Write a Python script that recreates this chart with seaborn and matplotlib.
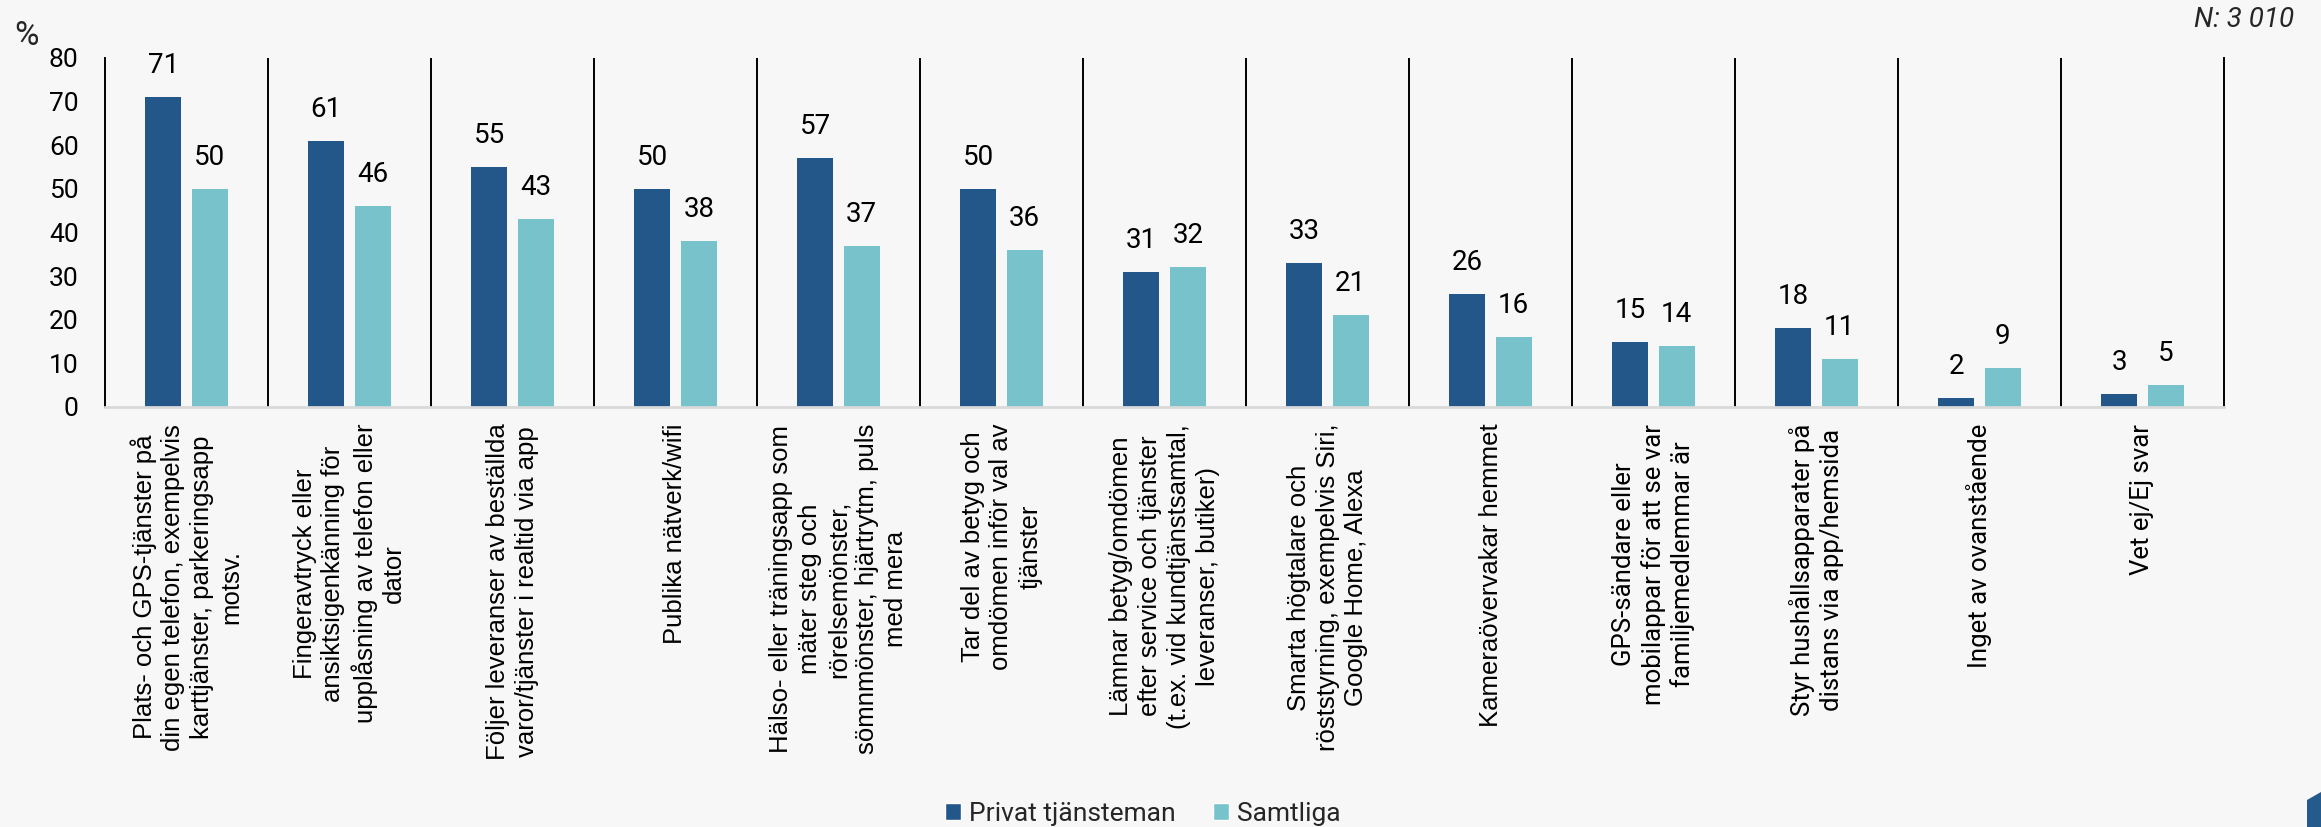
import numpy as np
import pandas as pd
import matplotlib
matplotlib.use("Agg")
import matplotlib.pyplot as plt
from matplotlib.patches import Patch, Polygon
import seaborn as sns

# Survey categories (x axis), one label per group of bars
categories = [
    "Plats- och GPS-tjänster på\ndin egen telefon, exempelvis\nkarttjänster, parkeringsapp\nmotsv.",
    "Fingeravtryck eller\nansiktsigenkänning för\nupplåsning av telefon eller\ndator",
    "Följer leveranser av beställda\nvaror/tjänster i realtid via app",
    "Publika nätverk/wifi",
    "Hälso- eller träningsapp som\nmäter steg och\nrörelsemönster,\nsömnmönster, hjärtrytm, puls\nmed mera",
    "Tar del av betyg och\nomdömen inför val av\ntjänster",
    "Lämnar betyg/omdömen\nefter service och tjänster\n(t.ex. vid kundtjänstsamtal,\nleveranser, butiker)",
    "Smarta högtalare och\nröststyrning, exempelvis Siri,\nGoogle Home, Alexa",
    "Kameraövervakar hemmet",
    "GPS-sändare eller\nmobilappar för att se var\nfamiljemedlemmar är",
    "Styr hushållsapparater på\ndistans via app/hemsida",
    "Inget av ovanstående",
    "Vet ej/Ej svar",
]

# Share (%) per group
privat_tjansteman = [71, 61, 55, 50, 57, 50, 31, 33, 26, 15, 18, 2, 3]
samtliga = [50, 46, 43, 38, 37, 36, 32, 21, 16, 14, 11, 9, 5]

series_names = ["Privat tjänsteman", "Samtliga"]
y_ticks = [0, 10, 20, 30, 40, 50, 60, 70, 80]
sample_note = "N: 3 010"

DARK = "#245789"
LIGHT = "#78C3CB"
BG = "#F7F7F7"

df = pd.DataFrame({
    "kategori": categories * 2,
    "grupp": [series_names[0]] * len(categories) + [series_names[1]] * len(categories),
    "andel": privat_tjansteman + samtliga,
})

sns.set_theme(style="white")
plt.rcParams["font.family"] = ["Roboto", "DejaVu Sans"]

W, H = 2321, 827
fig = plt.figure(figsize=(W / 100, H / 100), dpi=100, facecolor=BG)
ax = fig.add_axes([105 / W, 1 - 407 / H, 2119 / W, 349 / H])
ax.set_facecolor(BG)

sns.barplot(
    data=df, x="kategori", y="andel", hue="grupp",
    order=categories, hue_order=series_names,
    palette=[DARK, LIGHT], saturation=1,
    width=0.572, gap=0.227, linewidth=0,
    errorbar=None, legend=False, ax=ax,
)

ax.set_xlim(-0.5, len(categories) - 0.5)
ax.set_ylim(0, 80)
ax.set_yticks(y_ticks)
ax.set_xlabel("")
ax.set_ylabel("")

# Thin black separators between category groups
ax.set_xticks(np.arange(0.5, len(categories) - 1, 1), minor=True)
ax.grid(which="minor", axis="x", color="black", linewidth=1.4)
ax.grid(which="major", visible=False)
ax.tick_params(which="minor", length=0)

for side in ("left", "right"):
    ax.spines[side].set_visible(True)
    ax.spines[side].set_color("black")
    ax.spines[side].set_linewidth(1.4)
ax.spines["top"].set_visible(False)
ax.spines["bottom"].set_color("#D9D9D9")
ax.spines["bottom"].set_linewidth(2)

ax.tick_params(axis="y", length=0, pad=19, labelsize=19, labelcolor="black")
ax.tick_params(axis="x", length=0, pad=12)

ax.set_xticks(range(len(categories)))
ax.set_xticklabels(categories, rotation=90, ha="center", va="top",
                   multialignment="center", fontsize=18.5, linespacing=1.25)
for i, lbl in enumerate(ax.get_xticklabels()):
    lbl.set_fontfamily(["Roboto"] if i >= 9 else ["Liberation Sans"])
    lbl.set_color("black")

for container in ax.containers:
    ax.bar_label(container, fmt="%.0f", padding=13, fontsize=20, color="black")

fig.text(27 / W, 1 - 36 / H, "%", ha="center", va="center", fontsize=24)
fig.text(2244 / W, 1 - 20 / H, sample_note, ha="center", va="center",
         fontsize=20, style="italic")

handles = [Patch(facecolor=DARK), Patch(facecolor=LIGHT)]
fig.legend(handles, series_names, loc="center",
           bbox_to_anchor=(1143 / W, 1 - 814 / H), ncol=2, frameon=False,
           fontsize=19, handlelength=0.62, handleheight=0.62,
           handletextpad=0.3, columnspacing=1.4, borderaxespad=0, borderpad=0)

# Corner brand shape
fig.patches.append(Polygon(
    [(2307 / W, 0), (2307 / W, 27 / H), (1, 35 / H), (1, 0)],
    closed=True, transform=fig.transFigure, facecolor="#245A8C", edgecolor="none"))

fig.savefig("out.png", dpi=100, facecolor=BG)
